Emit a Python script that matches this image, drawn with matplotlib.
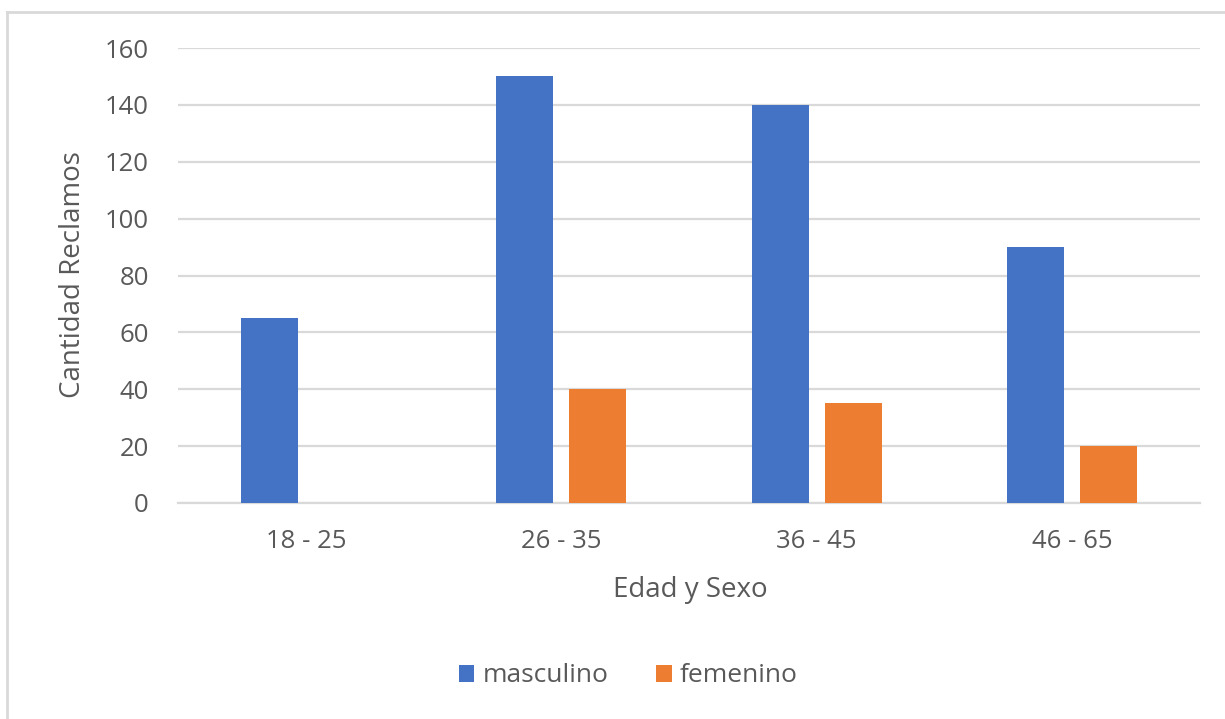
import matplotlib.pyplot as plt
import numpy as np
from matplotlib.lines import Line2D

# data
categories = ['18 - 25', '26 - 35', '36 - 45', '46 - 65']
masculino = [65, 150, 140, 90]
femenino = [0, 40, 35, 20]

blue = '#4472c4'
orange = '#ed7d31'
grid_col = '#d9d9d9'
text_col = '#595959'

plt.rcParams['font.family'] = ['Open Sans', 'DejaVu Sans']

W, H = 1225, 719
fig = plt.figure(figsize=(W / 100, H / 100), dpi=100)

# plot area in pixel coords
left, right, top, bottom = 178, 1200, 48, 503
ax = fig.add_axes([left / W, 1 - bottom / H, (right - left) / W, (bottom - top) / H])

x = np.arange(len(categories))
bw = 0.223
off = 0.142
ax.bar(x - off, masculino, bw, color=blue, label='masculino', zorder=3)
ax.bar(x + off, femenino, bw, color=orange, label='femenino', zorder=3)

ax.set_xlim(-0.5, len(categories) - 0.5)
ax.set_ylim(0, 160)
ax.set_yticks(np.arange(0, 161, 20))
ax.set_xticks(x)
ax.set_xticklabels(categories)
ax.yaxis.grid(True, color=grid_col, linewidth=1.6, zorder=0)
ax.set_axisbelow(True)
for s in ['top', 'right', 'left']:
    ax.spines[s].set_visible(False)
ax.spines['bottom'].set_color(grid_col)
ax.spines['bottom'].set_linewidth(1.6)
ax.tick_params(axis='both', length=0, labelsize=18.5, colors=text_col)
ax.tick_params(axis='y', pad=21)
ax.tick_params(axis='x', pad=19)

fig.text(690 / W, 1 - 590 / H, 'Edad y Sexo', fontsize=20, color=text_col,
         ha='center', va='center')
fig.text(73 / W, 1 - 275 / H, 'Cantidad Reclamos', fontsize=20, color=text_col,
         ha='center', va='center', rotation=90)

leg = fig.legend(loc='center', bbox_to_anchor=(628 / W, 1 - 676 / H), ncol=2,
                 frameon=False, fontsize=19, handlelength=0.6, handleheight=0.6,
                 handletextpad=0.3, columnspacing=1.8, labelcolor=text_col)

# chart border (light gray frame like the Excel chart area)
fig.add_artist(Line2D([7 / W, 7 / W], [0, 1 - 12 / H], color=grid_col, linewidth=2,
                      transform=fig.transFigure))
fig.add_artist(Line2D([7 / W, 1], [1 - 12 / H, 1 - 12 / H], color=grid_col, linewidth=2,
                      transform=fig.transFigure))

plt.savefig('out.png', dpi=100)
